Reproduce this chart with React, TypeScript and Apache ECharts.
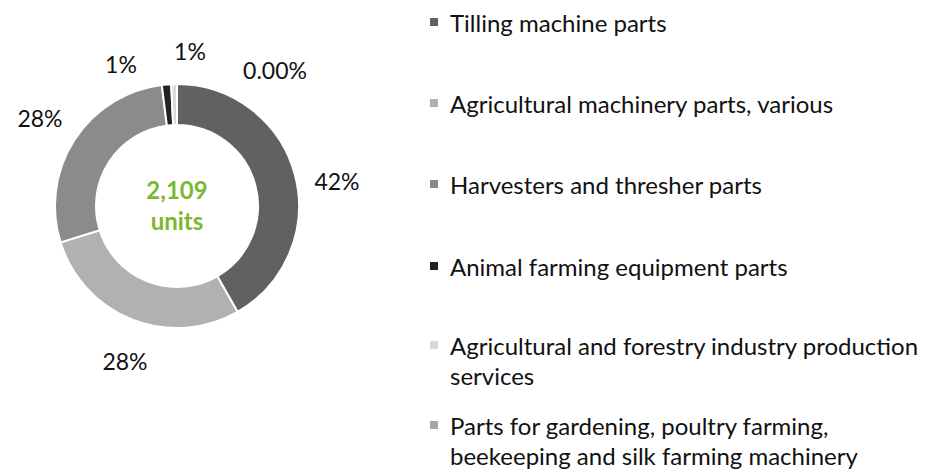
import React, { useEffect, useRef } from "react";
import * as echarts from "echarts";

const categories = [
  "Tilling machine parts",
  "Agricultural machinery parts, various",
  "Harvesters and thresher parts",
  "Animal farming equipment parts",
  "Agricultural and forestry industry production\nservices",
  "Parts for gardening, poultry farming,\nbeekeeping and silk farming machinery",
];
const unitValues = [880, 600, 587, 26, 16, 0];
const sliceColors = ["#616161", "#b1b1b1", "#8b8b8b", "#232323", "#dadada", "#a6a6a6"];

// label centres (layout only)
const labelPos: [number, number][] = [
  [337, 181],
  [125, 361],
  [40, 118],
  [121, 64],
  [190, 51],
  [275, 70],
];
// legend first-line centres (layout only)
const legendCenters = [22, 103, 184, 266, 346, 426];

const FONT = "Lato";

export default function App() {
  const ref = useRef<HTMLDivElement>(null);
  useEffect(() => {
    if (!ref.current) return;
    const chart = echarts.init(ref.current, undefined, { renderer: "svg" });
    const total = unitValues.reduce((a, b) => a + b, 0);
    const legends = categories.map((name, i) => {
      const lines = name.split("\n").length;
      const multi = lines > 1;
      return {
        orient: "vertical",
        left: 430,
        top: legendCenters[i] - 16,
        padding: 0,
        itemGap: 0,
        icon: multi ? "path://M0,0L8,0L8,8L0,8Z M0,38L8,38" : "rect",
        itemWidth: 8,
        itemHeight: multi ? 38 : 8,
        itemStyle: { borderWidth: 0 },
        selectedMode: false,
        data: [name],
        textStyle: {
          fontFamily: FONT,
          fontSize: 24,
          color: "#111",
          lineHeight: multi ? 30 : 32,
          padding: [0, 0, 0, 7],
        },
      };
    });
    chart.setOption({
      animation: false,
      color: sliceColors,
      legend: legends,
      graphic: [
        {
          type: "text",
          x: 177,
          y: 205,
          style: {
            text: total.toLocaleString("en-US") + "\nunits",
            fill: "#7cb82f",
            fontFamily: FONT,
            fontWeight: "bold",
            fontSize: 24,
            lineHeight: 31,
            align: "center",
            verticalAlign: "middle",
          },
        },
      ],
      series: [
        {
          type: "pie",
          center: [177, 206],
          radius: [81, 122],
          startAngle: 90,
          clockwise: true,
          avoidLabelOverlap: false,
          itemStyle: { borderColor: "#fff", borderWidth: 2 },
          data: categories.map((name, i) => ({ name, value: unitValues[i] })),
          label: {
            show: true,
            position: "outside",
            fontFamily: FONT,
            fontSize: 23,
            color: "#111",
            formatter: (p: any) =>
              p.value === 0 ? "0.00%" : Math.round((p.value / total) * 100) + "%",
          },
          labelLine: { show: false },
          labelLayout: (p: any) => ({
            x: labelPos[p.dataIndex][0],
            y: labelPos[p.dataIndex][1],
            align: "center",
            verticalAlign: "middle",
          }),
          emphasis: { disabled: true },
        },
      ],
    });
    return () => chart.dispose();
  }, []);
  return (
    <div
      ref={ref}
      style={{ position: "absolute", left: 0, top: 0, width: 938, height: 471 }}
    />
  );
}
